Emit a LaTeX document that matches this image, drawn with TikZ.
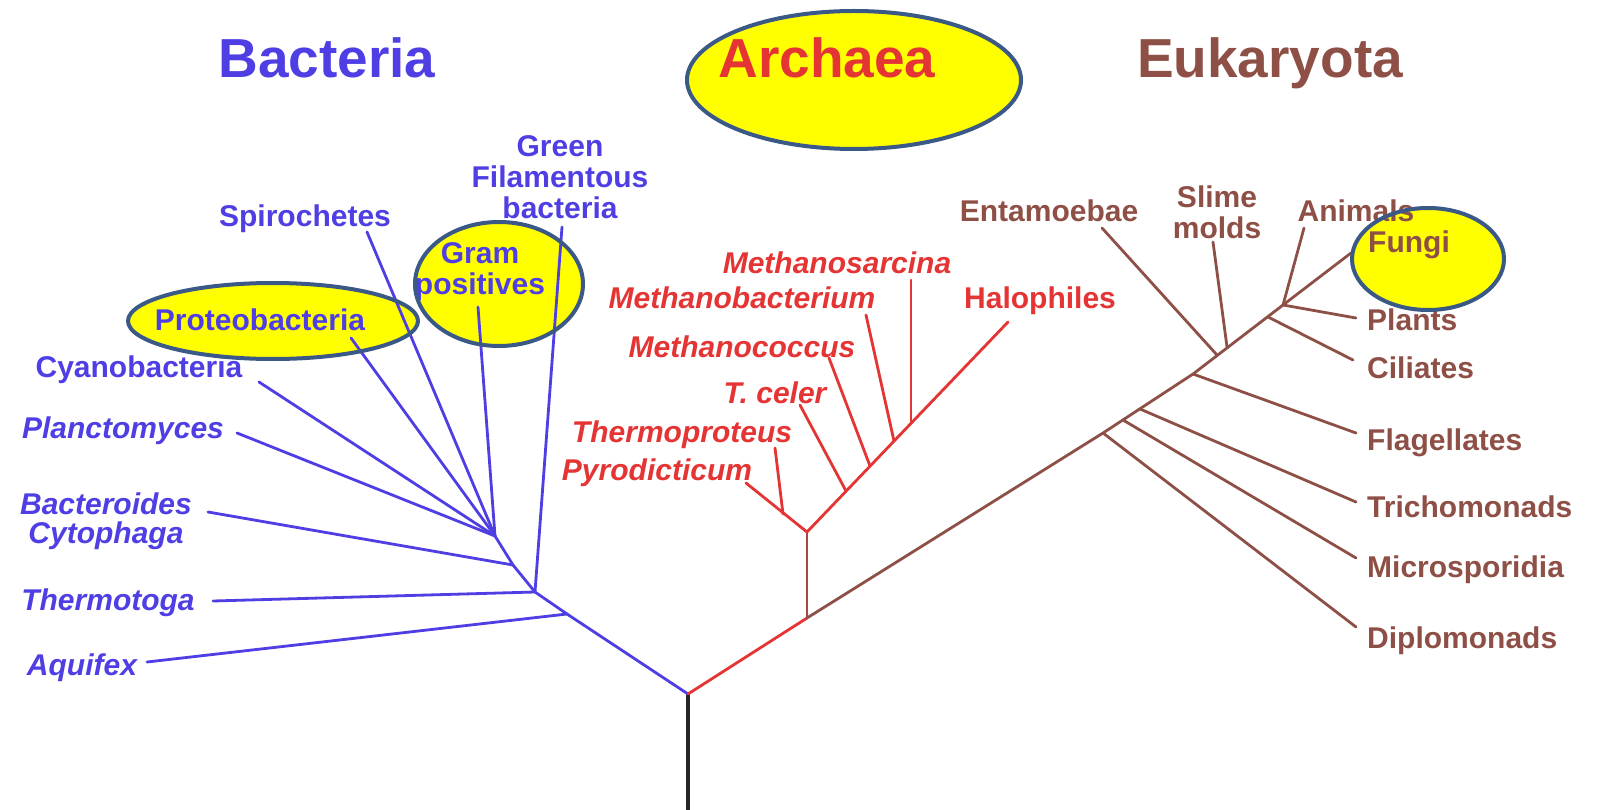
\documentclass[tikz,border=0pt]{standalone}
\usepackage{fontspec}
\setmainfont{Liberation Sans}
\definecolor{bluec}{RGB}{78,62,228}
\definecolor{redc}{RGB}{228,52,52}
\definecolor{brownc}{RGB}{142,80,70}
\definecolor{hlborder}{RGB}{59,89,135}
\definecolor{hlfill}{RGB}{255,255,0}
\begin{document}
\begin{tikzpicture}[x=1pt,y=-1pt,
  treeline/.style={line width=2.8pt, line cap=round, line join=round},
  lab/.style={font=\fontsize{30}{31}\selectfont\bfseries, inner sep=0pt, anchor=base},
  labit/.style={lab, font=\fontsize{30}{31}\selectfont\bfseries\itshape},
  mlab/.style={lab, anchor=center, align=center},
  title/.style={font=\fontsize{55}{60}\selectfont\bfseries, inner sep=0pt, anchor=base},
  hlfillst/.style={fill=hlfill},
  hlline/.style={draw=hlborder, line width=4pt}]
\useasboundingbox (0,0) rectangle (1597,810);

% highlight fills
\fill[hlfillst] (854,80) ellipse [x radius=167, y radius=69];
\fill[hlfillst] (273,321) ellipse [x radius=145, y radius=38];
\fill[hlfillst] (499,284) ellipse [x radius=84, y radius=62];
\fill[hlfillst] (1428,259) ellipse [x radius=76, y radius=51];

% titles
\node[title, text=bluec] (tBacteria) at (327,78) {Bacteria};
\node[title, text=redc] (tArchaea) at (827,78) {Archaea};
\node[title, text=brownc] (tEukaryota) at (1270,78) {Eukaryota};

% ---- coordinates: root and bacteria
\coordinate (R) at (688,694);
\coordinate (Rbot) at (688,812);
\coordinate (D) at (567,614);
\coordinate (A) at (535,592);
\coordinate (B) at (513,565);
\coordinate (C) at (495,536);
\coordinate (eAqu) at (147,662);
\coordinate (eThe) at (213,601);
\coordinate (eGre) at (562,227);
\coordinate (eBac) at (208,512);
\coordinate (ePla) at (237,433);
\coordinate (eCya) at (259,382);
\coordinate (ePro) at (351,338);
\coordinate (eSpi) at (367,232);
\coordinate (eGra) at (478,307);

% archaea
\coordinate (P) at (807,618);
\coordinate (Q) at (807,532);
\coordinate (eHal) at (1008,322);
\coordinate (ePyr) at (746,483);
\coordinate (jThp) at (783,514);
\coordinate (eThp) at (775,448);
\coordinate (jTce) at (846,491);
\coordinate (eTce) at (800,405);
\coordinate (jMco) at (870,466);
\coordinate (eMco) at (829,358);
\coordinate (jMba) at (894,441);
\coordinate (eMba) at (866,315);
\coordinate (jMsa) at (911,423);
\coordinate (eMsa) at (911,280);

% eukaryota
\coordinate (K1) at (1103,433);
\coordinate (K2) at (1193,374);
\coordinate (Top) at (1283,305);
\coordinate (jMic) at (1123,420);
\coordinate (jTri) at (1140,409);
\coordinate (jEnt) at (1217,355);
\coordinate (jSli) at (1227,347);
\coordinate (jCil) at (1268,317);
\coordinate (eDip) at (1356,627);
\coordinate (eMic) at (1356,558);
\coordinate (eTri) at (1356,502);
\coordinate (eFla) at (1356,433);
\coordinate (eEnt) at (1102,228);
\coordinate (eSli) at (1213,242);
\coordinate (eCil) at (1353,360);
\coordinate (eAni) at (1304,228);
\coordinate (eFun) at (1351,253);
\coordinate (ePlt) at (1356,318);

% ---- tree lines
\draw[treeline, black!85, line width=3.2pt, line cap=butt] (R) -- (Rbot);
\draw[treeline, bluec] (R) -- (D) -- (A) -- (B) -- (C);
\draw[treeline, bluec] (eAqu) -- (D);
\draw[treeline, bluec] (eThe) -- (A);
\draw[treeline, bluec] (eGre) -- (A);
\draw[treeline, bluec] (eBac) -- (B);
\draw[treeline, bluec] (ePla) -- (C);
\draw[treeline, bluec] (eCya) -- (C);
\draw[treeline, bluec] (ePro) -- (C);
\draw[treeline, bluec] (eSpi) -- (C);
\draw[treeline, bluec] (eGra) -- (C);

\draw[treeline, redc] (R) -- (P);
\draw[treeline, redc!35!brownc] (P) -- (Q);
\draw[treeline, redc] (Q) -- (eHal);
\draw[treeline, redc] (ePyr) -- (Q);
\draw[treeline, redc] (eThp) -- (jThp);
\draw[treeline, redc] (eTce) -- (jTce);
\draw[treeline, redc] (eMco) -- (jMco);
\draw[treeline, redc] (eMba) -- (jMba);
\draw[treeline, redc] (eMsa) -- (jMsa);

\draw[treeline, brownc] (P) -- (K1) -- (K2) -- (Top) -- (eFun);
\draw[treeline, brownc] (eDip) -- (K1);
\draw[treeline, brownc] (eMic) -- (jMic);
\draw[treeline, brownc] (eTri) -- (jTri);
\draw[treeline, brownc] (eFla) -- (K2);
\draw[treeline, brownc] (eEnt) -- (jEnt);
\draw[treeline, brownc] (eSli) -- (jSli);
\draw[treeline, brownc] (eCil) -- (jCil);
\draw[treeline, brownc] (eAni) -- (Top);
\draw[treeline, brownc] (ePlt) -- (Top);

% ---- bacteria labels
\node[mlab, text=bluec] (lGreen) at (560,177) {Green\\Filamentous\\bacteria};
\node[lab, text=bluec] (lSpi) at (305,227) {Spirochetes};
\node[mlab, text=bluec] (lGram) at (480,272) {Gram\\positives};
\node[lab, text=bluec] (lPro) at (260,330) {Proteobacteria};
\node[lab, text=bluec] (lCya) at (139,377) {Cyanobacteria};
\node[labit, text=bluec] (lPla) at (123,438) {Planctomyces};
\node[mlab, text=bluec, font=\fontsize{30}{29}\selectfont\bfseries\itshape] (lBac) at (106,521) {Bacteroides\\Cytophaga};
\node[labit, text=bluec] (lThe) at (108,610) {Thermotoga};
\node[labit, text=bluec] (lAqu) at (82,675) {Aquifex};

% ---- archaea labels
\node[labit, text=redc] (lMsa) at (837,273) {Methanosarcina};
\node[labit, text=redc] (lMba) at (742,308) {Methanobacterium};
\node[labit, text=redc] (lMco) at (742,357) {Methanococcus};
\node[labit, text=redc] (lTce) at (775,403) {T. celer};
\node[labit, text=redc] (lThp) at (682,442) {Thermoproteus};
\node[labit, text=redc] (lPyr) at (657,480) {Pyrodicticum};
\node[lab, text=redc] (lHal) at (1040,308) {Halophiles};

% ---- eukaryota labels
\node[lab, text=brownc] (lEnt) at (1049,222) {Entamoebae};
\node[mlab, text=brownc] (lSli) at (1217,212) {Slime\\molds};
\node[lab, text=brownc] (lAni) at (1356,222) {Animals};
\node[lab, text=brownc] (lFun) at (1409,253) {Fungi};
\node[lab, text=brownc, anchor=base west] (lPlt) at (1367,330) {Plants};
\node[lab, text=brownc, anchor=base west] (lCil) at (1367,378) {Ciliates};
\node[lab, text=brownc, anchor=base west] (lFla) at (1367,450) {Flagellates};
\node[lab, text=brownc, anchor=base west] (lTri) at (1367,517) {Trichomonads};
\node[lab, text=brownc, anchor=base west] (lMic) at (1367,577) {Microsporidia};
\node[lab, text=brownc, anchor=base west] (lDip) at (1367,648) {Diplomonads};

% highlight borders
\draw[hlline] (854,80) ellipse [x radius=167, y radius=69];
\draw[hlline] (273,321) ellipse [x radius=145, y radius=38];
\draw[hlline] (499,284) ellipse [x radius=84, y radius=62];
\draw[hlline] (1428,259) ellipse [x radius=76, y radius=51];
\end{tikzpicture}
\end{document}
